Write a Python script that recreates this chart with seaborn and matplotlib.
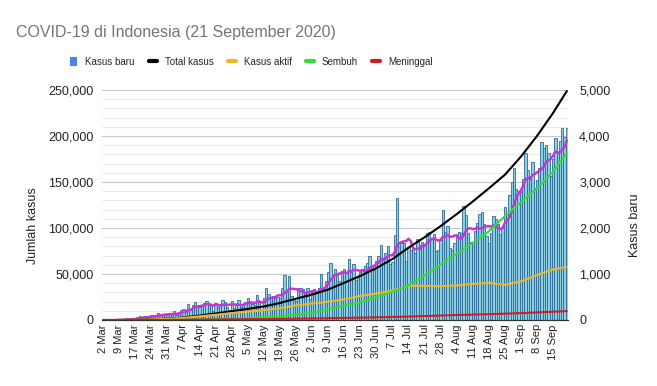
import pandas as pd
import numpy as np
import matplotlib
matplotlib.use("Agg")
import matplotlib.pyplot as plt
from matplotlib.lines import Line2D
from matplotlib.patches import Patch
from matplotlib.ticker import FuncFormatter, MultipleLocator
import seaborn as sns

# Kasus baru harian, 2 Mar - 21 Sep 2020 (12 Mar tidak ada di data)
kasus_baru = [
    # Maret
    2, 0, 0, 0, 2, 0, 2, 13, 8, 7, 35, 27, 21, 17, 38, 55, 82, 60, 81, 64,
    65, 107, 104, 103, 153, 109, 130, 129, 114,
    # April
    149, 113, 196, 106, 181, 218, 247, 218, 337, 219, 330, 399, 316, 282, 297,
    380, 407, 325, 327, 185, 375, 283, 357, 436, 396, 275, 214, 415, 260, 347,
    # Mei
    433, 292, 349, 395, 484, 367, 338, 336, 533, 387, 233, 484, 689, 568, 490,
    529, 489, 496, 486, 693, 973, 634, 949, 526, 479, 415, 686, 687, 678, 557, 700,
    # Juni
    467, 609, 684, 585, 703, 993, 672, 847, 1043, 1241, 979, 1111, 1014, 857, 1017,
    1106, 1031, 1331, 1041, 1226, 862, 954, 1051, 1113, 1178, 1240, 1385, 1198, 1082, 1293,
    # Juli
    1385, 1624, 1301, 1447, 1607, 1209, 1268, 1853, 2657, 1611, 1671, 1681, 1282, 1591, 1522,
    1574, 1462, 1752, 1639, 1693, 1655, 1882, 1906, 1761, 1868, 1492, 1525, 1748, 2381, 1904, 2040,
    # Agustus
    1560, 1519, 1679, 1815, 1922, 1882, 2473, 2277, 1893, 1687, 1693, 1942, 2098, 2307, 2345,
    2081, 1821, 1673, 1902, 2266, 2197, 2090, 1877, 2006, 2447, 2306, 2719, 3003, 3308, 2858, 2743,
    # September
    2775, 3075, 3622, 3269, 3128, 3444, 2880, 3046, 3307, 3861, 3737, 3806, 3636, 3141, 3507,
    3963, 3635, 3891, 4168, 3989, 4176,
]

# Tanggal yang ditampilkan di sumbu x
label_tanggal = [
    "2 Mar", "9 Mar", "17 Mar", "24 Mar", "31 Mar", "7 Apr", "14 Apr", "21 Apr", "28 Apr",
    "5 May", "12 May", "19 May", "26 May", "2 Jun", "9 Jun", "16 Jun", "23 Jun", "30 Jun",
    "7 Jul", "14 Jul", "21 Jul", "28 Jul", "4 Aug", "11 Aug", "18 Aug", "25 Aug",
    "1 Sep", "8 Sep", "15 Sep",
]

# Nilai kumulatif mingguan (tanggal label + 21 Sep)
tanggal_garis = label_tanggal + ["21 Sep"]
total_kasus = [2, 19, 172, 686, 1528, 2738, 4839, 7135, 9511, 12071, 14749, 18496, 23165,
               27549, 33076, 40400, 47896, 56385, 66226, 78572, 89869, 102051, 115056,
               128776, 143043, 157859, 177571, 200035, 225030, 248852]
kasus_aktif = [2, 19, 158, 601, 1311, 2313, 3954, 5677, 7484, 9002, 10679, 12808, 15870,
               17951, 19739, 22466, 26120, 28703, 32132, 37226, 37083, 36731, 37554,
               39242, 40460, 38134, 42009, 48847, 55000, 57694]
sembuh = [0, 0, 9, 30, 81, 204, 426, 842, 1254, 2197, 3063, 4467, 5877, 7935, 11414,
          15703, 19241, 24806, 30785, 37636, 48466, 60539, 72050, 83710, 96306, 112867,
          128057, 142958, 161065, 181481]
meninggal = [0, 0, 5, 55, 136, 221, 459, 616, 773, 872, 1007, 1221, 1418, 1663, 1923,
             2231, 2535, 2876, 3309, 3710, 4320, 4781, 5452, 5824, 6277, 6858, 7505,
             8230, 8965, 9677]

# Semua tanggal pada sumbu kategori
tgl = pd.date_range("2020-03-02", "2020-09-21")
tgl = tgl[tgl != pd.Timestamp("2020-03-12")]
semua_tanggal = [f"{d.day} {d.strftime('%b')}" for d in tgl]
posisi = {t: i for i, t in enumerate(semua_tanggal)}

df_bar = pd.DataFrame({"pos": range(len(kasus_baru)), "kasus_baru": kasus_baru})
# garis tren rata-rata bergerak 7 hari
df_bar["rata7"] = df_bar["kasus_baru"].rolling(7).mean()

df_garis = pd.DataFrame({
    "pos": [posisi[t] for t in tanggal_garis],
    "total": total_kasus,
    "aktif": kasus_aktif,
    "sembuh": sembuh,
    "meninggal": meninggal,
})

sns.set_style("white")
plt.rcParams["font.family"] = ["Liberation Sans", "DejaVu Sans"]

warna_biru = "#4a86e8"
warna_hitam = "#000000"
warna_kuning = "#f1b52a"
warna_hijau = "#33dd33"
warna_merah = "#cc1f1f"
warna_ungu = "#c435d6"

fig = plt.figure(figsize=(6.57, 3.86), dpi=100)
ax = fig.add_axes([102 / 657, 1 - 320 / 386, 466 / 657, 230 / 386])
ax2 = ax.twinx()

# batang kasus baru (sumbu kanan)
sns.barplot(data=df_bar, x="pos", y="kasus_baru", ax=ax2, color="#8ccfe3",
            saturation=1, width=1.0, edgecolor="#2f6a96", linewidth=0.6)
sns.lineplot(data=df_bar, x="pos", y="rata7", ax=ax2, color=warna_ungu, linewidth=1.8)

# garis kumulatif (sumbu kiri)
sns.lineplot(data=df_garis, x="pos", y="total", ax=ax, color=warna_hitam, linewidth=1.5)
sns.lineplot(data=df_garis, x="pos", y="aktif", ax=ax, color=warna_kuning, linewidth=1.5)
sns.lineplot(data=df_garis, x="pos", y="sembuh", ax=ax, color=warna_hijau, linewidth=1.5)
sns.lineplot(data=df_garis, x="pos", y="meninggal", ax=ax, color=warna_merah, linewidth=1.5)

ax.set_zorder(ax2.get_zorder() + 1)
ax.patch.set_visible(False)

ax.set_xlim(-0.5, len(kasus_baru) - 0.5)
ax.set_ylim(0, 250000)
ax2.set_ylim(0, 5000)

ax.set_yticks(range(0, 250001, 50000))
ax.yaxis.set_major_formatter(FuncFormatter(lambda v, p: f"{int(v):,}"))
ax2.set_yticks(range(0, 5001, 1000))
ax2.yaxis.set_major_formatter(FuncFormatter(lambda v, p: f"{int(v):,}"))
ax2.yaxis.set_minor_locator(MultipleLocator(200))

ax2.grid(True, which="major", axis="y", color="#c8c8c8", linewidth=0.8)
ax2.grid(True, which="minor", axis="y", color="#e6e6e6", linewidth=0.6)
ax2.set_axisbelow(True)
ax.grid(False)

ax.set_xticks([posisi[t] for t in label_tanggal])
ax.set_xticklabels(label_tanggal, rotation=90, fontsize=8, color="#222222")
ax.tick_params(axis="both", length=0, pad=3)
ax.tick_params(axis="y", labelsize=9, labelcolor="#222222", pad=6)
ax2.tick_params(axis="y", length=0, which="both", labelsize=9, labelcolor="#222222", pad=8)

ax.set_xlabel("")
ax.set_ylabel("Jumlah kasus", fontsize=9, color="#222222")
ax2.set_xlabel("")
ax2.set_ylabel("Kasus baru", fontsize=9, color="#222222")
ax.yaxis.set_label_coords(-0.135, 0.41)
ax2.yaxis.set_label_coords(1.13, 0.41)

for a in (ax, ax2):
    for s in ["top", "left", "right"]:
        a.spines[s].set_visible(False)
    a.spines["bottom"].set_color("#333333")
    a.spines["bottom"].set_linewidth(0.8)

fig.text(16 / 657, 1 - 32 / 386, "COVID-19 di Indonesia (21 September 2020)",
         fontsize=11.5, color="#757575", va="center", ha="left")

handles = [
    Patch(facecolor=warna_biru, edgecolor="none"),
    Line2D([], [], color=warna_hitam, linewidth=3),
    Line2D([], [], color=warna_kuning, linewidth=3),
    Line2D([], [], color=warna_hijau, linewidth=3),
    Line2D([], [], color=warna_merah, linewidth=3),
]
labels = ["Kasus baru", "Total kasus", "Kasus aktif", "Sembuh", "Meninggal"]
fig.legend(handles, labels, loc="center", bbox_to_anchor=(251 / 657, 1 - 62 / 386),
           ncol=5, frameon=False, prop={"size": 7},
           handlelength=0.8, handleheight=1.1, handletextpad=0.8, columnspacing=1.5)

fig.savefig("out.png", dpi=100)
plt.close(fig)
